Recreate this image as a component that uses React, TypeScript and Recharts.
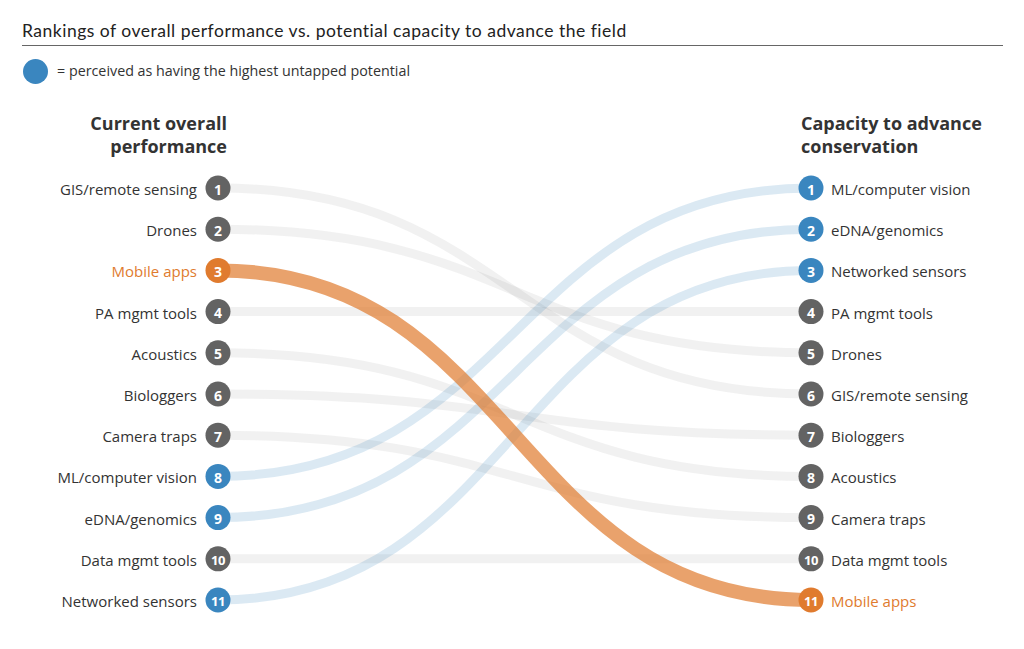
import { Line, LineChart, XAxis, YAxis } from 'recharts'

const tools = [
  'GIS/remote sensing',
  'Drones',
  'Mobile apps',
  'PA mgmt tools',
  'Acoustics',
  'Biologgers',
  'Camera traps',
  'ML/computer vision',
  'eDNA/genomics',
  'Data mgmt tools',
  'Networked sensors',
]
const performanceRank = [1, 2, 3, 4, 5, 6, 7, 8, 9, 10, 11]
const capacityRank = [6, 5, 11, 4, 8, 7, 9, 1, 2, 10, 3]
// 'gray' = default, 'blue' = highest untapped potential, 'orange' = called out
const group = ['gray', 'gray', 'orange', 'gray', 'gray', 'gray', 'gray', 'blue', 'blue', 'gray', 'blue']

const headerLeft = ['Current overall', 'performance']
const headerRight = ['Capacity to advance', 'conservation']

const COLORS: Record<string, { dot: string; line: string; opacity: number; width: number; text: string }> = {
  gray: { dot: '#636363', line: '#636363', opacity: 0.09, width: 9, text: '#333333' },
  blue: { dot: '#3a86bf', line: '#3a86bf', opacity: 0.18, width: 9, text: '#333333' },
  orange: { dot: '#e07b2e', line: '#e07b2e', opacity: 0.7, width: 14, text: '#e07b2e' },
}

const FONT = '"Open Sans", "Noto Sans", sans-serif'

const data = [
  Object.fromEntries([['side', 0], ...tools.map((_, i) => [`t${i}`, performanceRank[i]])]),
  Object.fromEntries([['side', 1], ...tools.map((_, i) => [`t${i}`, capacityRank[i]])]),
]

// draw gray first, blue next, orange on top
const drawOrder = tools
  .map((_, i) => i)
  .sort((a, b) => ['gray', 'blue', 'orange'].indexOf(group[a]) - ['gray', 'blue', 'orange'].indexOf(group[b]))

function RankDot({ cx, cy, side, rank, label, kind }: any) {
  const c = COLORS[kind]
  const left = side === 0
  return (
    <g>
      <circle cx={cx} cy={cy} r={12.5} fill={c.dot} />
      <text
        x={cx}
        y={cy + 1}
        textAnchor="middle"
        dominantBaseline="central"
        fill="#fff"
        fontSize={rank > 9 ? 13 : 14}
        fontWeight={700}
        fontFamily={FONT}
        letterSpacing={rank > 9 ? -0.5 : 0}
      >
        {rank}
      </text>
      <text
        x={left ? cx - 21 : cx + 20}
        y={cy + 1}
        textAnchor={left ? 'end' : 'start'}
        dominantBaseline="central"
        fill={c.text}
        fontSize={15}
        fontFamily={FONT}
      >
        {label}
      </text>
    </g>
  )
}

export default function App() {
  return (
    <div style={{ position: 'absolute', left: 0, top: 0, width: 1024, height: 649, background: '#fff' }}>
      <div
        style={{
          position: 'absolute',
          left: 22,
          top: 21,
          width: 981,
          paddingBottom: 4,
          borderBottom: '1.5px solid #666',
          fontFamily: 'Lato, sans-serif',
          fontSize: 17.5,
          letterSpacing: 0.5,
          color: '#222',
          lineHeight: '20px',
        }}
      >
        Rankings of overall performance vs. potential capacity to advance the field
      </div>
      <div
        style={{
          position: 'absolute',
          left: 23,
          top: 59,
          width: 25,
          height: 25,
          borderRadius: '50%',
          background: '#3a86bf',
        }}
      />
      <div
        style={{
          position: 'absolute',
          left: 57,
          top: 61,
          fontFamily: FONT,
          fontSize: 14.3,
          color: '#333',
          lineHeight: '20px',
        }}
      >
        = perceived as having the highest untapped potential
      </div>
      <div
        style={{
          position: 'absolute',
          right: 1024 - 227,
          top: 112,
          textAlign: 'right',
          fontFamily: FONT,
          fontWeight: 700,
          fontSize: 18,
          lineHeight: '23px',
          color: '#333',
        }}
      >
        {headerLeft.map((t) => (
          <div key={t}>{t}</div>
        ))}
      </div>
      <div
        style={{
          position: 'absolute',
          left: 801,
          top: 112,
          fontFamily: FONT,
          fontWeight: 700,
          fontSize: 18,
          lineHeight: '23px',
          color: '#333',
        }}
      >
        {headerRight.map((t) => (
          <div key={t}>{t}</div>
        ))}
      </div>
      <LineChart
        width={1024}
        height={649}
        data={data}
        margin={{ top: 188, right: 213, bottom: 49, left: 218 }}
        style={{ position: 'absolute', left: 0, top: 0 }}
      >
        <XAxis dataKey="side" type="number" domain={[0, 1]} hide />
        <YAxis type="number" domain={[1, 11]} reversed hide />
        {drawOrder.map((i) => {
          const c = COLORS[group[i]]
          const key = `t${i}`
          return (
            <Line
              key={key}
              dataKey={key}
              type="bumpX"
              stroke={c.line}
              strokeOpacity={c.opacity}
              strokeWidth={c.width}
              isAnimationActive={false}
              activeDot={false}
              legendType="none"
              dot={(p: any) => (
                <RankDot
                  key={`${key}-${p.index}`}
                  cx={p.cx}
                  cy={p.cy}
                  side={p.index}
                  rank={p.payload[key]}
                  label={tools[i]}
                  kind={group[i]}
                />
              )}
            />
          )
        })}
      </LineChart>
    </div>
  )
}
